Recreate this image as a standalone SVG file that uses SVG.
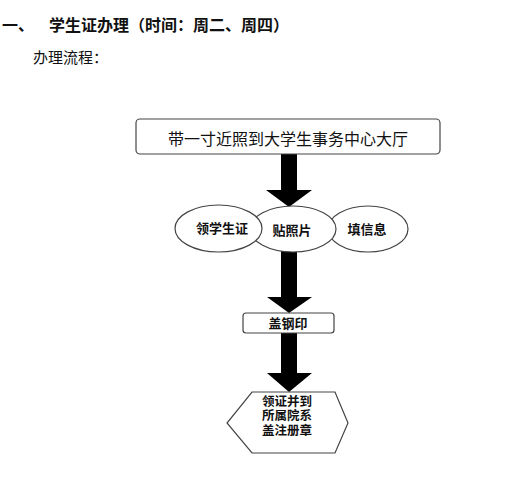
<svg xmlns="http://www.w3.org/2000/svg" width="507" height="480" viewBox="0 0 507 480">
<style>
  text { font-family: "Noto Sans CJK SC", "Noto Sans", sans-serif; fill: #111; }
  .h { font-size: 16px; font-weight: bold; }
  .p { font-size: 15px; }
  .box { fill: #fff; stroke: #444; stroke-width: 1.2; }
  .lbl { font-size: 13px; font-weight: bold; text-anchor: middle; }
  .hx { font-family: "Liberation Sans", "Noto Sans CJK SC", sans-serif; font-size: 12.5px; font-weight: bold; text-anchor: middle; }
  .arrow { fill: #000; }
</style>
<rect width="507" height="480" fill="#fff"/>
<g id="heading">
  <text class="h" x="2" y="31">一、</text>
  <text class="h" x="49" y="31">学生证办理（时间：周二、周四）</text>
  <text class="p" x="33" y="63">办理流程：</text>
</g>
<g id="connectors">
  <polygon class="arrow" points="281,154 297,154 297,190 312,190 289,207 266,190 281,190"/>
  <polygon class="arrow" points="281,250 297,250 297,297 312,297 289,313 267,297 281,297"/>
  <polygon class="arrow" points="281,333 297,333 297,373 312,373 289,392 267,373 281,373"/>
</g>
<g id="node-start">
  <rect class="box" x="136" y="119" width="304" height="35" rx="4"/>
  <text x="288" y="145" font-size="16" text-anchor="middle" fill="#222">带一寸近照到大学生事务中心大厅</text>
</g>
<g id="node-fill-info">
  <ellipse class="box" cx="368" cy="229" rx="40" ry="23"/>
  <text class="lbl" x="367" y="234">填信息</text>
</g>
<g id="node-photo">
  <ellipse class="box" cx="293" cy="229" rx="43" ry="23"/>
  <text class="lbl" x="292" y="235" font-size="15">贴照片</text>
</g>
<g id="node-card">
  <ellipse class="box" cx="218.5" cy="228.5" rx="43.5" ry="23.5"/>
  <text class="lbl" x="222" y="233">领学生证</text>
</g>
<g id="node-stamp">
  <rect class="box" x="243" y="313" width="91" height="20" rx="3"/>
  <text class="lbl" x="288" y="328">盖钢印</text>
</g>
<g id="node-register">
  <polygon class="box" points="252,392 335,392 348,423 335,453 252,453 227,423"/>
  <text class="hx" x="287" y="405.5">领证并到</text>
  <text class="hx" x="287" y="420">所属院系</text>
  <text class="hx" x="287" y="434.5">盖注册章</text>
</g>
</svg>
